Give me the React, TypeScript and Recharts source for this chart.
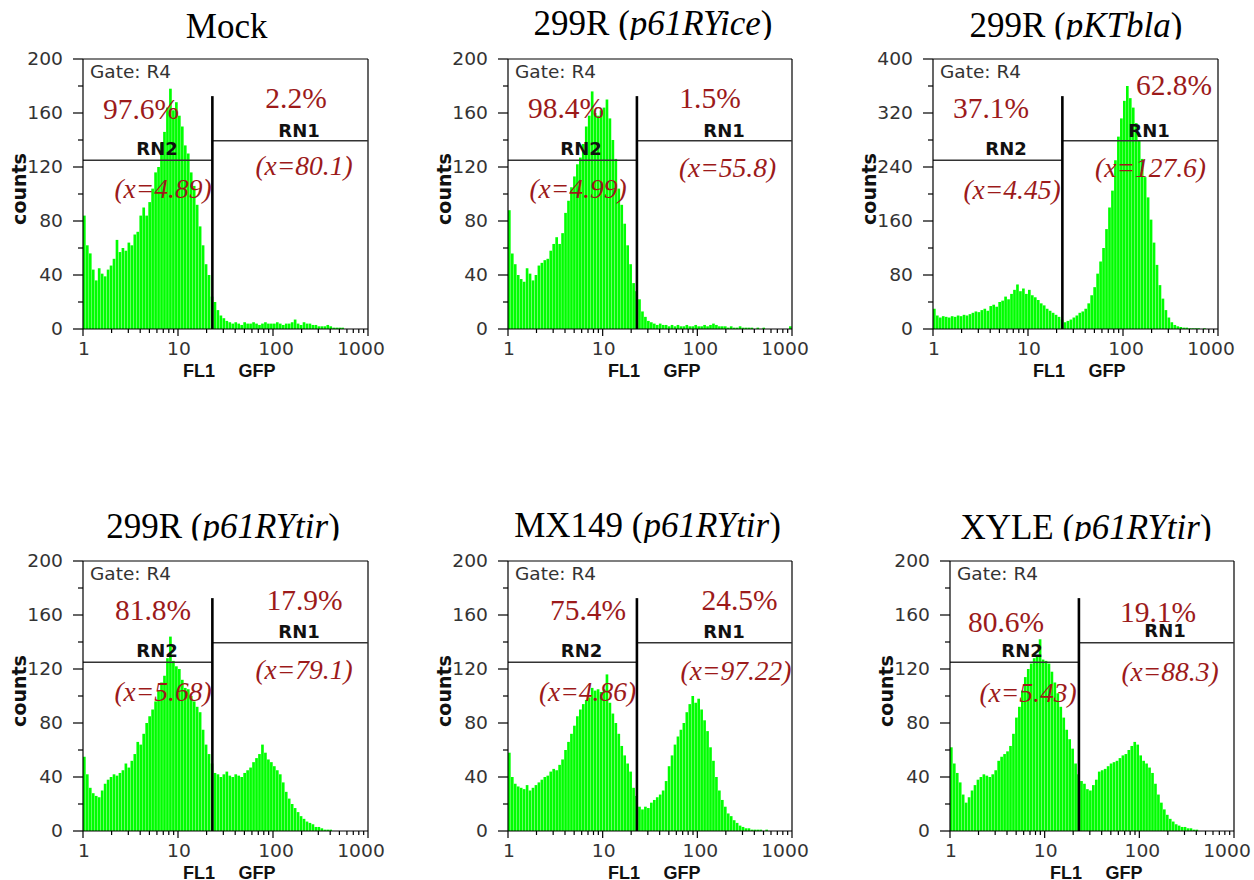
import React from 'react';
import { BarChart, ComposedChart, Bar, XAxis, YAxis, ReferenceLine } from 'recharts';

// ─── Data (96 log-spaced channels per panel, 32 per decade) ────────────────────

const mockCounts = [
  84, 62, 56, 44, 36, 45, 41, 39, 44, 47,
  52, 66, 57, 60, 58, 64, 62, 70, 72, 84,
  90, 84, 94, 104, 116, 120, 138, 146, 164, 178,
  162, 168, 158, 150, 136, 130, 116, 106, 92, 76,
  62, 48, 40, 24, 20, 14, 10, 8, 6, 5,
  4, 5, 4, 3, 5, 4, 4, 5, 4, 3,
  4, 5, 4, 4, 4, 5, 4, 3, 4, 4,
  5, 7, 4, 3, 5, 4, 4, 3, 3, 2,
  2, 2, 3, 2, 1, 1, 1, 1, 0, 0,
  0, 0, 0, 0, 0, 0,
];

const ice299Counts = [
  88, 56, 48, 40, 37, 35, 45, 41, 36, 40,
  47, 49, 51, 52, 58, 63, 68, 63, 71, 86,
  95, 105, 113, 122, 127, 137, 150, 158, 176, 160,
  158, 162, 164, 170, 156, 140, 126, 104, 92, 78,
  62, 48, 34, 28, 22, 13, 9, 6, 5, 4,
  3, 4, 3, 3, 2, 3, 2, 3, 2, 2,
  3, 2, 2, 3, 2, 2, 3, 2, 3, 4,
  3, 2, 2, 2, 1, 2, 1, 1, 2, 1,
  1, 1, 1, 0, 1, 0, 1, 0, 0, 0,
  0, 0, 0, 0, 0, 2,
];

const bla299Counts = [
  30, 20, 17, 19, 18, 17, 19, 18, 20, 19,
  21, 20, 22, 24, 26, 25, 28, 30, 27, 34,
  36, 33, 40, 42, 48, 44, 52, 58, 66, 56,
  60, 52, 58, 50, 47, 43, 38, 35, 30, 27,
  24, 21, 18, 14, 10, 12, 14, 17, 20, 24,
  26, 30, 38, 50, 62, 82, 100, 120, 148, 180,
  205, 250, 285, 312, 338, 360, 342, 328, 305, 280,
  252, 225, 195, 162, 128, 95, 65, 45, 28, 17,
  10, 6, 4, 3, 2, 2, 1, 1, 1, 1,
  0, 1, 0, 0, 0, 0,
];

const tir299Counts = [
  55, 42, 32, 28, 26, 25, 30, 35, 38, 40,
  42, 41, 43, 45, 50, 47, 52, 57, 66, 64,
  72, 80, 85, 90, 96, 104, 110, 115, 128, 144,
  126, 122, 120, 112, 106, 105, 100, 96, 92, 88,
  75, 64, 57, 50, 43, 42, 40, 42, 44, 41,
  40, 42, 41, 40, 43, 45, 47, 51, 54, 57,
  64, 58, 53, 51, 48, 45, 42, 36, 29, 24,
  20, 17, 14, 11, 9, 7, 6, 5, 3, 3,
  2, 1, 1, 1, 0, 0, 0, 0, 0, 0,
  0, 0, 0, 0, 0, 0,
];

const mx149Counts = [
  58, 40, 35, 33, 32, 31, 34, 30, 32, 34,
  36, 38, 40, 41, 44, 46, 45, 49, 53, 60,
  66, 72, 78, 85, 90, 94, 97, 99, 106, 104,
  105, 103, 105, 116, 95, 87, 80, 72, 63, 56,
  50, 44, 32, 26, 18, 16, 18, 17, 21, 23,
  25, 27, 30, 37, 48, 56, 64, 70, 75, 80,
  88, 94, 100, 95, 98, 90, 82, 74, 62, 52,
  40, 30, 23, 18, 13, 11, 8, 6, 4, 3,
  2, 2, 1, 1, 1, 1, 0, 1, 0, 0,
  0, 0, 0, 0, 0, 0,
];

const xyleCounts = [
  62, 50, 43, 36, 27, 21, 25, 30, 34, 38,
  40, 42, 41, 40, 42, 45, 52, 55, 57, 59,
  63, 72, 84, 92, 104, 114, 120, 124, 128, 130,
  142, 127, 126, 124, 118, 110, 102, 92, 84, 75,
  68, 61, 50, 42, 37, 35, 31, 30, 34, 38,
  44, 45, 46, 48, 50, 51, 52, 54, 56, 57,
  60, 63, 66, 64, 56, 52, 50, 47, 43, 35,
  27, 21, 16, 12, 9, 7, 5, 4, 3, 3,
  2, 2, 1, 1, 0, 0, 0, 0, 0, 0,
  0, 0, 0, 0, 0, 0,
];

const FL1_TICKS = [
  1, 2, 3, 4, 5, 6, 7, 8, 9,
  10, 20, 30, 40, 50, 60, 70, 80, 90,
  100, 200, 300, 400, 500, 600, 700, 800, 900,
  1000,
];
const FL1_LABELS = [1, 10, 100, 1000];

const COUNT_TICKS_200 = [0, 20, 40, 60, 80, 100, 120, 140, 160, 180, 200];
const COUNT_TICKS_400 = [0, 40, 80, 120, 160, 200, 240, 280, 320, 360, 400];

// Gate settings (marker on FL1, RN2/RN1 heights, marker top) in count units
const MARKER_X = 23;
const GATE_200 = { rn2: 125, rn1: 139.5, top: 172.5 };
const GATE_400 = { rn2: 250, rn1: 279, top: 345 };

// ─── Styles ───────────────────────────────────────────────────────────────────

const GREEN = '#00ff00';
const RED = '#9c1a1a';
const SERIF = '"Liberation Serif", "Times New Roman", serif';
const SANS = '"DejaVu Sans", sans-serif';
const ARIAL = '"Liberation Sans", Arial, sans-serif';
const PLOT_H = 270;
const AXIS_W = 60;
const AXIS_H = 50;
const PAD_TOP = 10;
const PAD_RIGHT = 30;
const AXIS_LINE = { stroke: '#000', strokeWidth: 1.2 };
// the acquisition software nudges its decade labels a little
const FL1_LABEL_NUDGE: Record<number, number> = { 1: 1, 10: 1, 100: 3, 1000: -7 };

type Spot = [number, number];

interface PanelSpec {
  id: string;
  left: number;
  top: number;
  width: number;
  titleMain: string;
  titleItalic: string;
  title: Spot;
  titleClip: number;
  counts: number[];
  yTicks: number[];
  yLabelStep: number;
  gate: { rn2: number; rn1: number; top: number };
  pctL: string;
  pctR: string;
  meanL: string;
  meanR: string;
  at: { pctL: Spot; pctR: Spot; meanL: Spot; meanR: Spot; rn2: Spot; rn1: Spot };
}

const panels: PanelSpec[] = [
  {
    id: 'mock', left: 83, top: 59, width: 285,
    titleMain: 'Mock', titleItalic: '', title: [226.7, 38], titleClip: 40,
    counts: mockCounts, yTicks: COUNT_TICKS_200, yLabelStep: 40, gate: GATE_200,
    pctL: '97.6%', pctR: '2.2%', meanL: '(x=4.89)', meanR: '(x=80.1)',
    at: { pctL: [58, 60], pctR: [213, 49], meanL: [80, 139], meanR: [221, 116], rn2: [74, 96], rn1: [216, 78] },
  },
  {
    id: 'ice', left: 508, top: 59, width: 284,
    titleMain: '299R (', titleItalic: 'p61RYice', title: [653, 35], titleClip: 40,
    counts: ice299Counts, yTicks: COUNT_TICKS_200, yLabelStep: 40, gate: GATE_200,
    pctL: '98.4%', pctR: '1.5%', meanL: '(x=4.99)', meanR: '(x=55.8)',
    at: { pctL: [58, 59], pctR: [202, 49], meanL: [70, 139], meanR: [219.5, 118], rn2: [73, 96], rn1: [216, 78] },
  },
  {
    id: 'bla', left: 933, top: 59, width: 285,
    titleMain: '299R (', titleItalic: 'pKTbla', title: [1076, 37], titleClip: 39.5,
    counts: bla299Counts, yTicks: COUNT_TICKS_400, yLabelStep: 80, gate: GATE_400,
    pctL: '37.1%', pctR: '62.8%', meanL: '(x=4.45)', meanR: '(x=127.6)',
    at: { pctL: [58, 59], pctR: [241, 36], meanL: [79, 140], meanR: [217.5, 118], rn2: [73, 96], rn1: [216, 78] },
  },
  {
    id: 'tir', left: 83, top: 561, width: 285,
    titleMain: '299R (', titleItalic: 'p61RYtir', title: [223, 538], titleClip: 540.5,
    counts: tir299Counts, yTicks: COUNT_TICKS_200, yLabelStep: 40, gate: GATE_200,
    pctL: '81.8%', pctR: '17.9%', meanL: '(x=5.68)', meanR: '(x=79.1)',
    at: { pctL: [70, 59], pctR: [221.5, 49], meanL: [80, 140], meanR: [221, 118], rn2: [74, 96], rn1: [216, 77] },
  },
  {
    id: 'mx', left: 508, top: 561, width: 284,
    titleMain: 'MX149 (', titleItalic: 'p61RYtir', title: [647.5, 537], titleClip: 543,
    counts: mx149Counts, yTicks: COUNT_TICKS_200, yLabelStep: 40, gate: GATE_200,
    pctL: '75.4%', pctR: '24.5%', meanL: '(x=4.86)', meanR: '(x=97.22)',
    at: { pctL: [80, 59], pctR: [231.5, 49], meanL: [79.5, 140], meanR: [228, 119], rn2: [73.5, 96], rn1: [216, 77] },
  },
  {
    id: 'xyle', left: 950, top: 561, width: 284,
    titleMain: 'XYLE (', titleItalic: 'p61RYtir', title: [1086, 539], titleClip: 541,
    counts: xyleCounts, yTicks: COUNT_TICKS_200, yLabelStep: 40, gate: GATE_200,
    pctL: '80.6%', pctR: '19.1%', meanL: '(x=5.43)', meanR: '(x=88.3)',
    at: { pctL: [56, 71], pctR: [208, 61], meanL: [78, 141], meanR: [220, 120], rn2: [72, 96], rn1: [215, 76] },
  },
];

// ─── Ticks ────────────────────────────────────────────────────────────────────

function FlTick(props: any) {
  const { x, y, payload } = props;
  const major = FL1_LABELS.includes(payload.value);
  const lx = x + (FL1_LABEL_NUDGE[payload.value] ?? 0);
  return (
    <g>
      <line x1={x} x2={x} y1={y} y2={y + (major ? 7 : 4)} stroke="#000" strokeWidth={1.2} />
      {major && (
        <text
          transform={`translate(${lx} ${y + 26}) scale(1.1 1)`}
          textAnchor="middle"
          fontFamily={SANS}
          fontSize={17}
          fill="#333"
        >
          {payload.value}
        </text>
      )}
    </g>
  );
}

function CountTick(props: any) {
  const { x, y, payload, step } = props;
  const major = payload.value % step === 0;
  return (
    <g>
      <line x1={x} x2={x - (major ? 10 : 5)} y1={y} y2={y} stroke="#000" strokeWidth={1.2} />
      {major && (
        <text
          transform={`translate(${x - 20} ${y + 6}) scale(1.1 1)`}
          textAnchor="end"
          fontFamily={SANS}
          fontSize={17}
          fill="#333"
        >
          {payload.value}
        </text>
      )}
    </g>
  );
}

// ─── Panel charts ─────────────────────────────────────────────────────────────
// Two charts share one plot box: the channel bars on a band axis underneath,
// and the log FL1 axis with the counts axis, frame and gate markers on top.

function Histogram({ spec }: { spec: PanelSpec }) {
  const bars = spec.counts.map((count, bin) => ({ bin, count }));
  const axisData = FL1_TICKS.map((fl) => ({ fl }));
  const yMax = spec.yTicks[spec.yTicks.length - 1];
  const { gate } = spec;
  const w = AXIS_W + spec.width + PAD_RIGHT;
  const h = PAD_TOP + PLOT_H + AXIS_H;
  const box: React.CSSProperties = { position: 'absolute', left: spec.left - AXIS_W, top: spec.top - PAD_TOP };

  return (
    <>
      <div style={box}>
        <BarChart
          width={w}
          height={h}
          data={bars}
          margin={{ top: PAD_TOP, right: PAD_RIGHT, bottom: AXIS_H, left: AXIS_W }}
          barCategoryGap={0}
          barGap={0}
        >
          <XAxis dataKey="bin" type="category" hide height={0} />
          <YAxis type="number" domain={[0, yMax]} allowDataOverflow hide width={0} />
          <Bar dataKey="count" fill={GREEN} barSize={3} isAnimationActive={false} />
        </BarChart>
      </div>
      <div style={box}>
        <ComposedChart
          width={w}
          height={h}
          data={axisData}
          margin={{ top: PAD_TOP, right: PAD_RIGHT, bottom: 0, left: 0 }}
        >
          <XAxis
            dataKey="fl"
            type="number"
            scale="log"
            domain={[1, 1000]}
            allowDataOverflow
            ticks={FL1_TICKS}
            interval={0}
            tickSize={0}
            tickMargin={0}
            tickLine={false}
            tick={<FlTick />}
            axisLine={AXIS_LINE}
            height={AXIS_H}
          />
          <YAxis
            type="number"
            domain={[0, yMax]}
            allowDataOverflow
            ticks={spec.yTicks}
            interval={0}
            tickSize={0}
            tickMargin={0}
            tickLine={false}
            tick={<CountTick step={spec.yLabelStep} />}
            axisLine={AXIS_LINE}
            width={AXIS_W}
          />
          <ReferenceLine y={yMax} stroke="#000" strokeWidth={1.2} />
          <ReferenceLine x={1000} stroke="#000" strokeWidth={1.2} />
          <ReferenceLine
            segment={[{ x: 1, y: gate.rn2 }, { x: MARKER_X, y: gate.rn2 }]}
            stroke="#333"
            strokeWidth={1.5}
          />
          <ReferenceLine
            segment={[{ x: MARKER_X, y: gate.rn1 }, { x: 1000, y: gate.rn1 }]}
            stroke="#333"
            strokeWidth={1.5}
          />
          <ReferenceLine
            segment={[{ x: MARKER_X, y: 0 }, { x: MARKER_X, y: gate.top }]}
            stroke="#000"
            strokeWidth={2.6}
          />
        </ComposedChart>
      </div>
    </>
  );
}

// ─── Text overlay ─────────────────────────────────────────────────────────────

function PanelText({ spec }: { spec: PanelSpec }) {
  const px = spec.left;
  const py = spec.top;
  const pos = (p: Spot) => ({ x: px + p[0], y: py + p[1] });
  const clipId = `title-clip-${spec.id}`;
  return (
    <g>
      <clipPath id={clipId}>
        <rect x={px - 150} y={spec.titleClip - 60} width={spec.width + 300} height={60} />
      </clipPath>
      <text
        clipPath={`url(#${clipId})`}
        x={spec.title[0]}
        y={spec.title[1]}
        textAnchor="middle"
        fontFamily={SERIF}
        fontSize={35}
        fill="#000"
      >
        {spec.titleMain}
        {spec.titleItalic && <tspan fontStyle="italic">{spec.titleItalic}</tspan>}
        {spec.titleItalic && ')'}
      </text>

      <text x={px + 7} y={py + 19} fontFamily={SANS} fontSize={18.5} fill="#333">
        Gate: R4
      </text>

      <text {...pos(spec.at.pctL)} textAnchor="middle" fontFamily={SERIF} fontSize={29.5} fill={RED}>
        {spec.pctL}
      </text>
      <text {...pos(spec.at.pctR)} textAnchor="middle" fontFamily={SERIF} fontSize={29.5} fill={RED}>
        {spec.pctR}
      </text>
      <text {...pos(spec.at.meanL)} textAnchor="middle" fontFamily={SERIF} fontStyle="italic" fontSize={27.5} fill={RED}>
        {spec.meanL}
      </text>
      <text {...pos(spec.at.meanR)} textAnchor="middle" fontFamily={SERIF} fontStyle="italic" fontSize={27.5} fill={RED}>
        {spec.meanR}
      </text>

      <text {...pos(spec.at.rn2)} textAnchor="middle" fontFamily={SANS} fontWeight="bold" fontSize={18} fill="#111">
        RN2
      </text>
      <text {...pos(spec.at.rn1)} textAnchor="middle" fontFamily={SANS} fontWeight="bold" fontSize={18} fill="#111">
        RN1
      </text>

      <text
        x={px - 57}
        y={py + 130}
        transform={`rotate(-90 ${px - 57} ${py + 130})`}
        textAnchor="middle"
        fontFamily={SANS}
        fontWeight="bold"
        fontSize={19}
        fill="#111"
      >
        counts
      </text>

      <text x={px + 116} y={py + 318} textAnchor="middle" fontFamily={ARIAL} fontWeight="bold" fontSize={18} fill="#111">
        FL1
      </text>
      <text x={px + 174} y={py + 318} textAnchor="middle" fontFamily={ARIAL} fontWeight="bold" fontSize={18} fill="#111">
        GFP
      </text>
    </g>
  );
}

export default function App() {
  return (
    <div
      style={{
        position: 'absolute',
        left: 0,
        top: 0,
        width: 1254,
        height: 880,
        background: '#fff',
        overflow: 'hidden',
      }}
    >
      {panels.map((p) => (
        <Histogram key={p.id} spec={p} />
      ))}
      <svg
        width={1254}
        height={880}
        style={{ position: 'absolute', left: 0, top: 0, pointerEvents: 'none' }}
      >
        {panels.map((p) => (
          <PanelText key={p.id} spec={p} />
        ))}
      </svg>
    </div>
  );
}
